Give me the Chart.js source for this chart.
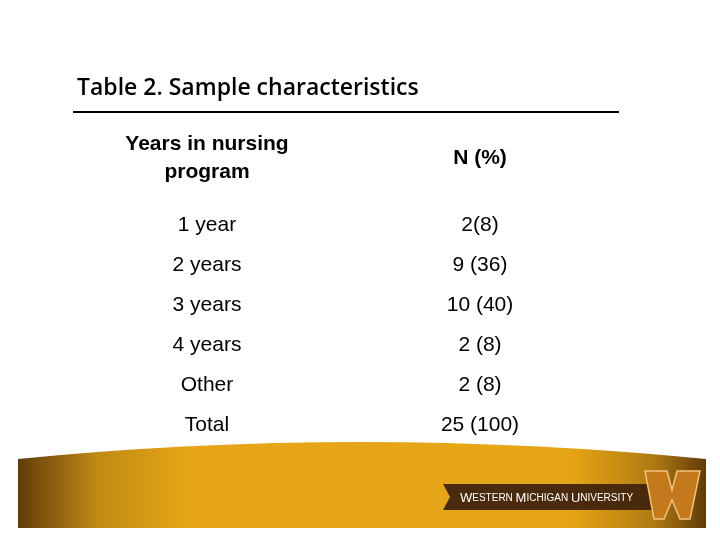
<!DOCTYPE html>
<html><head><meta charset="utf-8">
<script src="https://cdn.jsdelivr.net/npm/chart.js@4/dist/chart.umd.min.js"></script>
<style>html,body{margin:0;padding:0;background:#fff}#c{display:block}</style>
</head><body>
<div style="width:720px;height:540px"><canvas id="c" width="720" height="540"></canvas></div>
<script>
const title = 'Table 2. Sample characteristics';
const headers = [['Years in nursing', 'program'], ['N (%)']];
const categories = ['1 year', '2 years', '3 years', '4 years', 'Other', 'Total'];
const values = ['2(8)', '9 (36)', '10 (40)', '2 (8)', '2 (8)', '25 (100)'];

const tablePlugin = {
  id: 'tablePlugin',
  beforeDraw(chart) {
    const ctx = chart.ctx;
    ctx.save();
    ctx.fillStyle = '#fff'; ctx.fillRect(0, 0, 720, 540);
    const g = ctx.createLinearGradient(13, 0, 710, 0);
    g.addColorStop(0, '#5a3608'); g.addColorStop(0.12, '#c08a14'); g.addColorStop(0.25, '#e6a516');
    g.addColorStop(0.8, '#e6a516'); g.addColorStop(0.92, '#b07a12'); g.addColorStop(1, '#5a3608');
    ctx.fillStyle = g;
    ctx.beginPath();
    ctx.moveTo(18, 459); ctx.quadraticCurveTo(360, 425, 706, 459);
    ctx.lineTo(706, 528); ctx.lineTo(18, 528); ctx.closePath(); ctx.fill();
    ctx.fillStyle = '#4a2a0c';
    ctx.beginPath(); ctx.moveTo(443, 484); ctx.lineTo(660, 484); ctx.lineTo(660, 510); ctx.lineTo(443, 510); ctx.lineTo(450, 497); ctx.closePath(); ctx.fill();
    ctx.fillStyle = '#fff'; ctx.textBaseline = 'middle'; ctx.textAlign = 'left';
    let x = 460;
    const parts = [['W', 13], ['ESTERN ', 10], ['M', 13], ['ICHIGAN ', 10], ['U', 13], ['NIVERSITY', 10]];
    for (const [t, s] of parts) { ctx.font = s + 'px "Liberation Sans"'; ctx.fillText(t, x, 498); x += ctx.measureText(t).width; }
    ctx.fillStyle = '#c4791c'; ctx.strokeStyle = '#f2c27a'; ctx.lineWidth = 1.5;
    ctx.beginPath();
    const W = [[645,471],[667,471],[672,490],[677,471],[700,471],[690,519],[680,519],[672,500],[664,519],[654,519]];
    W.forEach((p,i)=> i? ctx.lineTo(p[0],p[1]) : ctx.moveTo(p[0],p[1])); ctx.closePath(); ctx.fill(); ctx.stroke();
    ctx.fillStyle = '#000'; ctx.font = '600 23px "Open Sans"'; ctx.textAlign = 'left';
    ctx.fillText(title, 77, 88);
    ctx.fillRect(73, 111, 546, 2);
    ctx.restore();
  },
  afterDraw(chart) {
    const ctx = chart.ctx, xs = chart.scales.x, ys = chart.scales.y;
    ctx.save(); ctx.fillStyle = '#000'; ctx.textAlign = 'center'; ctx.textBaseline = 'middle';
    ctx.font = 'bold 21px "Liberation Sans"';
    headers.forEach((h, c) => {
      const px = xs.getPixelForValue(c), py = ys.getPixelForValue(-1.675);
      h.forEach((line, k) => ctx.fillText(line, px, py + (k - (h.length - 1) / 2) * 28));
    });
    ctx.font = '21px "Liberation Sans"';
    categories.forEach((cat, i) => {
      ctx.fillText(cat, xs.getPixelForValue(0), ys.getPixelForValue(i));
      ctx.fillText(values[i], xs.getPixelForValue(1), ys.getPixelForValue(i));
    });
    ctx.restore();
  }
};

new Chart(document.getElementById('c'), {
  type: 'scatter',
  data: { datasets: [{ data: [], pointRadius: 0 }] },
  options: {
    responsive: false, animation: false, devicePixelRatio: 1,
    layout: { padding: 0 },
    plugins: { legend: { display: false }, tooltip: { enabled: false } },
    scales: {
      x: { type: 'linear', display: false, min: -207 / 273, max: 513 / 273 },
      y: { type: 'linear', display: false, reverse: true, min: -225 / 40, max: 315 / 40 }
    }
  },
  plugins: [tablePlugin]
});
</script>
</body></html>
